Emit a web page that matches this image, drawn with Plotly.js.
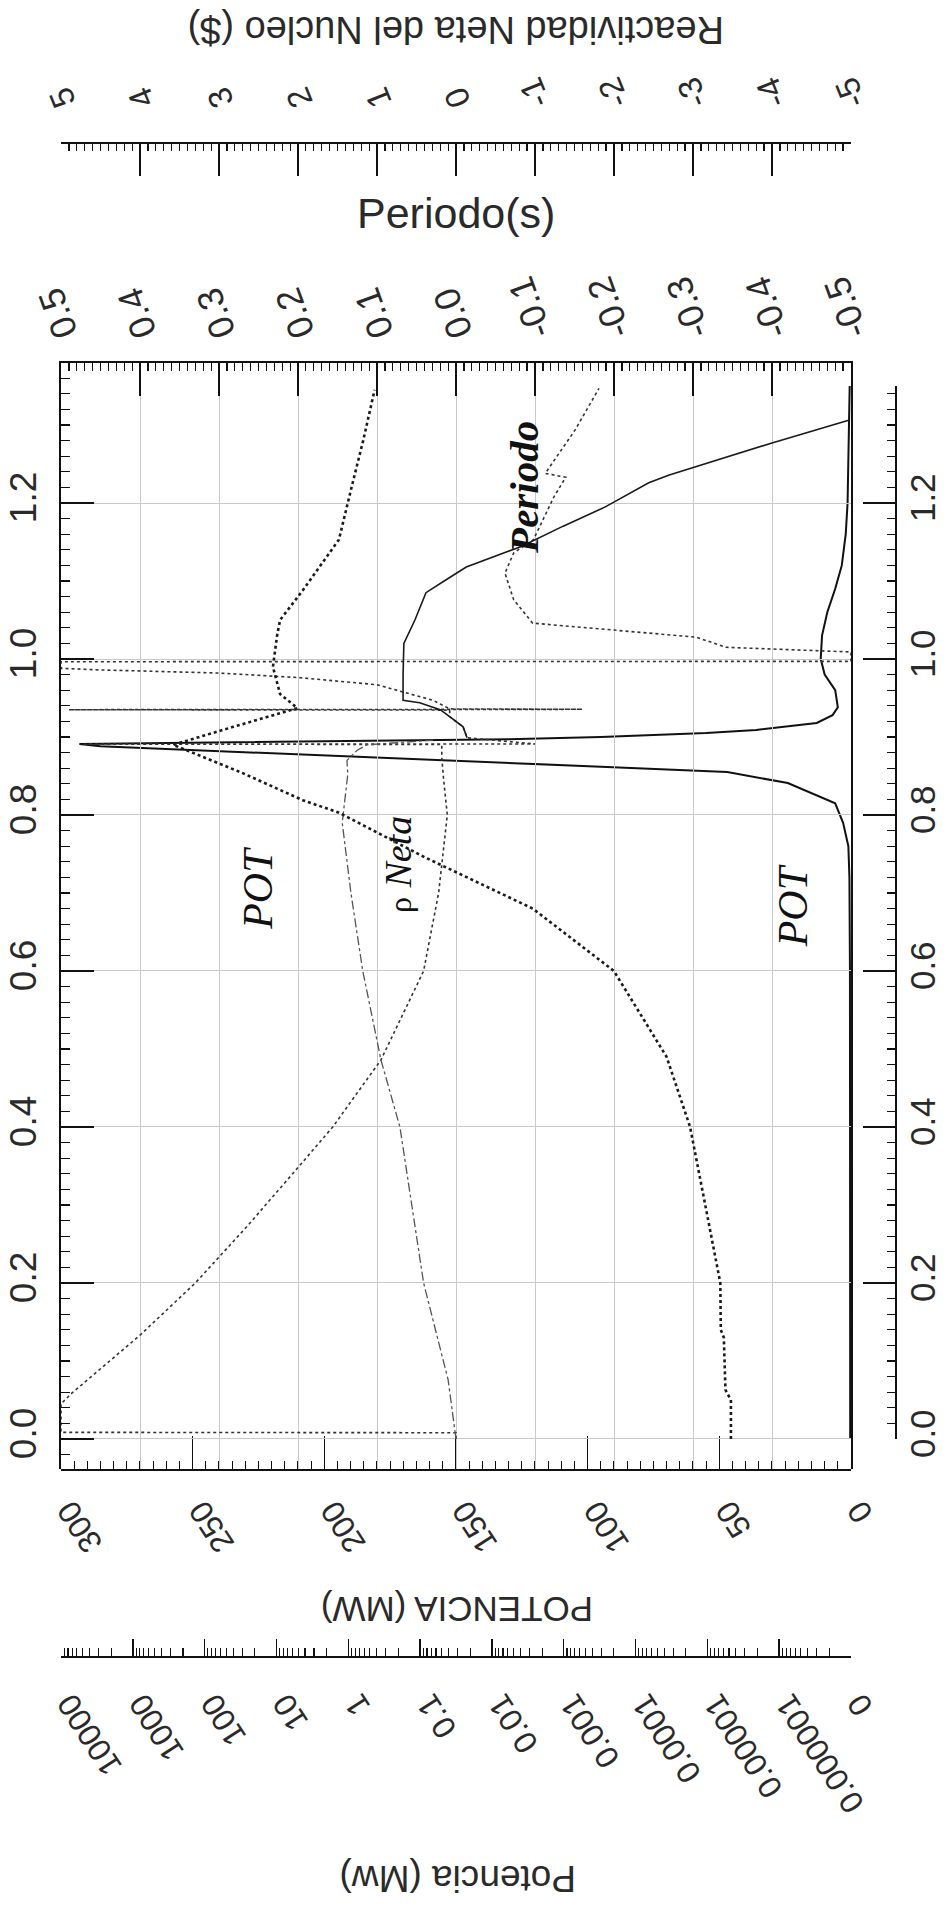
<!DOCTYPE html>
<html>
<head>
<meta charset="utf-8">
<script src="https://cdn.plot.ly/plotly-3.0.1.min.js"></script>
<style>
html,body{margin:0;padding:0;background:#fff;}
#chart{width:949px;height:1919px;}
</style>
</head>
<body>
<div id="chart"></div>
<script>
// ---------- DATA ----------
// Potencia lineal (MW) - solid line
const tiempo_pot = [0, 0.3, 0.6, 0.72, 0.76, 0.79, 0.815, 0.841, 0.855, 0.862, 0.870, 0.880, 0.888, 0.891, 0.8935, 0.897, 0.900, 0.905, 0.909, 0.918, 0.928, 0.938, 0.960, 0.980, 1.000, 1.030, 1.060, 1.090, 1.120, 1.160, 1.200, 1.260, 1.300, 1.350];
const potencia_mw = [0.3, 0.3, 0.4, 0.6, 1.0, 3.0, 6.0, 24, 47, 95, 153, 226, 285, 293, 230, 130, 95, 55, 36, 13, 7, 5, 6, 10, 11.5, 11, 9, 6, 3.5, 2, 1.3, 0.9, 0.7, 0.5];

// Potencia en escala logaritmica (MW) - dense dotted line
const tiempo_potlog = [0, 0.05, 0.063, 0.13, 0.14, 0.2, 0.3, 0.4, 0.49, 0.6, 0.68, 0.746, 0.803, 0.819, 0.854, 0.87, 0.89, 0.913, 0.937, 0.955, 0.969, 0.99, 1.03, 1.05, 1.088, 1.153, 1.22, 1.28, 1.345];
const potencia_log_mw = [4.7e-6, 4.7e-6, 5.6e-6, 5.9e-6, 6.5e-6, 6.6e-6, 1.07e-5, 1.74e-5, 3.7e-5, 2.0e-4, 2.7e-3, 0.087, 1.35, 4.3, 30, 80, 275, 40, 5.1, 8.9, 9.8, 11.2, 9.8, 8.9, 4.3, 1.35, 0.9, 0.62, 0.43];

// Reactividad neta ($) - dash-dot line (before the peak)
const tiempo_rho = [0, 0.05, 0.076, 0.2, 0.4, 0.486, 0.6, 0.7, 0.79, 0.852, 0.87, 0.883, 0.89, 0.893, 0.896];
const reactividad = [0, 0.06, 0.1, 0.41, 0.71, 0.95, 1.18, 1.33, 1.44, 1.37, 1.38, 1.25, 1.13, 0.7, 0.29];

// Reactividad neta ($) - solid line (after the peak)
const tiempo_rho2 = [0.899, 0.913, 0.926, 0.935, 0.944, 0.947, 0.98, 1.02, 1.05, 1.085, 1.10, 1.118, 1.144, 1.17, 1.195, 1.226, 1.236, 1.246, 1.277, 1.306];
const reactividad2 = [-0.14, -0.09, 0.08, 0.2, 0.46, 0.67, 0.67, 0.66, 0.52, 0.38, 0.15, -0.13, -0.82, -1.35, -1.89, -2.44, -2.70, -3.01, -4.0, -4.97];

// Periodo (s) - dotted line
const tiempo_per = [0, 0.008, 0.0085, 0.045, 0.059, 0.133, 0.2, 0.272, 0.341, 0.4, 0.486, 0.6, 0.7, 0.768, 0.8, 0.849, 0.874, 0.8905, 0.8908, 0.8911, 0.899, 0.913, 0.926, 0.9345, 0.935, 0.9355, 0.936, 0.947, 0.967, 0.976, 0.982, 0.986, 0.988, 0.9965, 0.997, 1.009, 1.015, 1.028, 1.044, 1.046, 1.076, 1.11, 1.136, 1.153, 1.208, 1.233, 1.238, 1.294, 1.347];
const periodo = [0, 0, 0.5, 0.5, 0.486, 0.40, 0.33, 0.265, 0.206, 0.156, 0.095, 0.041, 0.022, 0.014, 0.011, 0.016, 0.018, 0.018, 0.47, -0.10, -0.014, -0.009, 0.008, 0.008, 0.49, -0.16, 0.008, 0.029, 0.10, 0.197, 0.30, 0.45, 0.5, 0.5, -0.5, -0.5, -0.342, -0.304, -0.116, -0.097, -0.073, -0.062, -0.073, -0.098, -0.124, -0.139, -0.113, -0.151, -0.181];

// Tick labels
const tiempo_ticks = [0, 0.2, 0.4, 0.6, 0.8, 1.0, 1.2];
const tiempo_ticktext = ['0.0', '0.2', '0.4', '0.6', '0.8', '1.0', '1.2'];
const potencia_ticks = [0, 50, 100, 150, 200, 250, 300];
const potencia_ticktext = ['0', '50', '100', '150', '200', '250', '300'];
const periodo_ticks = [-0.5, -0.4, -0.3, -0.2, -0.1, 0, 0.1, 0.2, 0.3, 0.4, 0.5];
const periodo_ticktext = ['-0.5', '-0.4', '-0.3', '-0.2', '-0.1', '0.0', '0.1', '0.2', '0.3', '0.4', '0.5'];
const reactividad_ticks = [-5, -4, -3, -2, -1, 0, 1, 2, 3, 4, 5];
const reactividad_ticktext = ['-5', '-4', '-3', '-2', '-1', '0', '1', '2', '3', '4', '5'];
const potlog_ticks = [1e-7, 1e-6, 1e-5, 1e-4, 1e-3, 1e-2, 1e-1, 1, 10, 100, 1000, 10000];
const potlog_ticktext = ['0', '0.000001', '0.00001', '0.0001', '0.001', '0.01', '0.1', '1', '10', '100', '1000', '10000'];

// ---------- LAYOUT HELPERS ----------
const W = 949, H = 1919;
const px = v => v / W;
const py = v => 1 - v / H;
const SANS = 'Liberation Sans, Arial, sans-serif';
const SERIF = 'Liberation Serif, Times New Roman, serif';
const INK = '#111';
const TXT = '#2a2a2a';
const GRID = '#c9c9c9';
const xDom = [px(61), px(851)];

const traces = [
  { x: potencia_mw, y: tiempo_pot, xaxis: 'x', yaxis: 'y2', mode: 'lines',
    line: { color: INK, width: 2 }, name: 'POT (MW)' },
  { x: potencia_log_mw, y: tiempo_potlog, xaxis: 'x4', yaxis: 'y', mode: 'lines',
    line: { color: '#1a1a1a', width: 2.6, dash: 'dot' }, name: 'POT (log)' },
  { x: reactividad, y: tiempo_rho, xaxis: 'x3', yaxis: 'y', mode: 'lines',
    line: { color: '#555', width: 1.3, dash: 'dashdot' }, name: 'rho Neta' },
  { x: reactividad2, y: tiempo_rho2, xaxis: 'x3', yaxis: 'y', mode: 'lines',
    line: { color: '#1a1a1a', width: 1.6 }, name: 'rho Neta (2)' },
  { x: periodo, y: tiempo_per, xaxis: 'x2', yaxis: 'y', mode: 'lines',
    line: { color: '#333', width: 1.6, dash: 'dot' }, name: 'Periodo' }
];

const tickfontBig = { family: SANS, size: 37, color: TXT };
const tickfont32 = { family: SANS, size: 32, color: TXT };

const layout = {
  width: W, height: H,
  margin: { l: 0, r: 0, t: 0, b: 0 },
  paper_bgcolor: '#fff',
  plot_bgcolor: 'rgba(0,0,0,0)',
  showlegend: false,
  // Potencia lineal (bottom of frame)
  xaxis: {
    domain: xDom, range: [300, 0], anchor: 'y', side: 'bottom',
    showline: true, linecolor: INK, linewidth: 2,
    ticks: 'inside', ticklen: 33, tickwidth: 1.5, tickcolor: INK,
    tickmode: 'array', tickvals: potencia_ticks, ticktext: potencia_ticktext,
    tickangle: -123, tickfont: tickfont32, ticklabelstandoff: 14,
    showgrid: false, zeroline: false,
    minor: { ticks: 'inside', ticklen: 8, tickwidth: 1.2, tickcolor: INK, tickmode: 'linear', tick0: 0, dtick: 5, showgrid: false }
  },
  // Periodo (top of frame)
  xaxis2: {
    overlaying: 'x', anchor: 'y', side: 'top', range: [0.5, -0.5],
    showline: true, linecolor: INK, linewidth: 2,
    ticks: 'inside', ticklen: 33, tickwidth: 1.5, tickcolor: INK,
    tickmode: 'array', tickvals: periodo_ticks, ticktext: periodo_ticktext,
    tickangle: -110, tickfont: { family: SANS, size: 36, color: TXT }, ticklabelstandoff: -10,
    showgrid: true, gridcolor: GRID, gridwidth: 1, zeroline: false,
    minor: { ticks: 'inside', ticklen: 8, tickwidth: 1.2, tickcolor: INK, tickmode: 'linear', tick0: 0, dtick: 0.01, showgrid: false }
  },
  // Reactividad ($) (free axis above)
  xaxis3: {
    overlaying: 'x', anchor: 'free', position: py(143), side: 'top', range: [5, -5],
    showline: true, linecolor: INK, linewidth: 2,
    ticks: 'inside', ticklen: 32, tickwidth: 1.5, tickcolor: INK,
    tickmode: 'array', tickvals: reactividad_ticks, ticktext: reactividad_ticktext,
    tickangle: -112, tickfont: { family: SANS, size: 33, color: TXT }, ticklabelstandoff: 4,
    showgrid: false, zeroline: false,
    minor: { ticks: 'inside', ticklen: 7, tickwidth: 1.2, tickcolor: INK, tickmode: 'linear', tick0: 0, dtick: 0.1, showgrid: false }
  },
  // Potencia log (free axis below)
  xaxis4: {
    overlaying: 'x', anchor: 'free', position: py(1657), side: 'bottom', type: 'log', range: [4, -7],
    showline: true, linecolor: INK, linewidth: 2,
    ticks: 'inside', ticklen: 17, tickwidth: 1.5, tickcolor: INK,
    tickmode: 'array', tickvals: potlog_ticks, ticktext: potlog_ticktext,
    tickangle: -123, tickfont: tickfont32, ticklabelstandoff: 20,
    showgrid: false, zeroline: false,
    minor: { ticks: 'inside', ticklen: 8, tickwidth: 1.1, tickcolor: INK, dtick: 'D1', showgrid: false }
  },
  // Tiempo (left side of frame)
  yaxis: {
    domain: [py(1469), py(363)], range: [-0.0385, 1.3795], anchor: 'x', side: 'left',
    showline: true, linecolor: INK, linewidth: 2, mirror: true,
    ticks: 'inside', ticklen: 33, tickwidth: 1.5, tickcolor: INK,
    tickmode: 'array', tickvals: tiempo_ticks, ticktext: tiempo_ticktext,
    tickangle: -90, tickfont: tickfontBig, ticklabelstandoff: 8,
    showgrid: true, gridcolor: GRID, gridwidth: 1, zeroline: false,
    minor: { ticks: 'inside', ticklen: 9, tickwidth: 1.2, tickcolor: INK, tickmode: 'linear', tick0: 0, dtick: 0.02, showgrid: false }
  },
  // Tiempo (separate axis on the right)
  yaxis2: {
    domain: [py(1439), py(386)], range: [0, 1.35], anchor: 'free', position: px(896), side: 'right',
    showline: true, linecolor: INK, linewidth: 2,
    ticks: 'inside', ticklen: 32, tickwidth: 1.5, tickcolor: INK,
    tickmode: 'array', tickvals: tiempo_ticks, ticktext: tiempo_ticktext,
    tickangle: -90, tickfont: { family: SANS, size: 35, color: TXT }, ticklabelstandoff: -4,
    showgrid: false, zeroline: false,
    minor: { ticks: 'inside', ticklen: 8, tickwidth: 1.2, tickcolor: INK, tickmode: 'linear', tick0: 0, dtick: 0.02, showgrid: false }
  },
  annotations: [
    { xref: 'paper', yref: 'paper', x: px(456), y: py(30), text: 'Reactividad Neta del Nucleo ($)', textangle: 180,
      showarrow: false, xanchor: 'center', yanchor: 'middle', font: { family: SANS, size: 38, color: TXT } },
    { xref: 'paper', yref: 'paper', x: px(456), y: py(213), text: 'Periodo(s)', textangle: 0,
      showarrow: false, xanchor: 'center', yanchor: 'middle', font: { family: SANS, size: 43, color: TXT } },
    { xref: 'paper', yref: 'paper', x: px(457), y: py(1610), text: 'POTENCIA (MW)', textangle: 180,
      showarrow: false, xanchor: 'center', yanchor: 'middle', font: { family: SANS, size: 35, color: TXT } },
    { xref: 'paper', yref: 'paper', x: px(458), y: py(1879), text: 'Potencia (Mw)', textangle: 180,
      showarrow: false, xanchor: 'center', yanchor: 'middle', font: { family: SANS, size: 37, color: TXT } },
    { xref: 'x', yref: 'y', x: 225, y: 0.706, text: '<i>POT</i>', textangle: -90,
      showarrow: false, xanchor: 'center', yanchor: 'middle', font: { family: SERIF, size: 42, color: INK } },
    { xref: 'x', yref: 'y', x: 22, y: 0.683, text: '<i>POT</i>', textangle: -90,
      showarrow: false, xanchor: 'center', yanchor: 'middle', font: { family: SERIF, size: 42, color: INK } },
    { xref: 'x', yref: 'y', x: 172, y: 0.736, text: '<span style="font-size:32px">ρ</span> <i>Neta</i>', textangle: -90,
      showarrow: false, xanchor: 'center', yanchor: 'middle', font: { family: SERIF, size: 38, color: INK } },
    { xref: 'x', yref: 'y', x: 124, y: 1.22, text: '<i><b>Periodo</b></i>', textangle: -90,
      showarrow: false, xanchor: 'center', yanchor: 'middle', font: { family: SERIF, size: 41, color: INK } }
  ]
};

Plotly.newPlot('chart', traces, layout, { staticPlot: true, displayModeBar: false });
</script>
</body>
</html>
